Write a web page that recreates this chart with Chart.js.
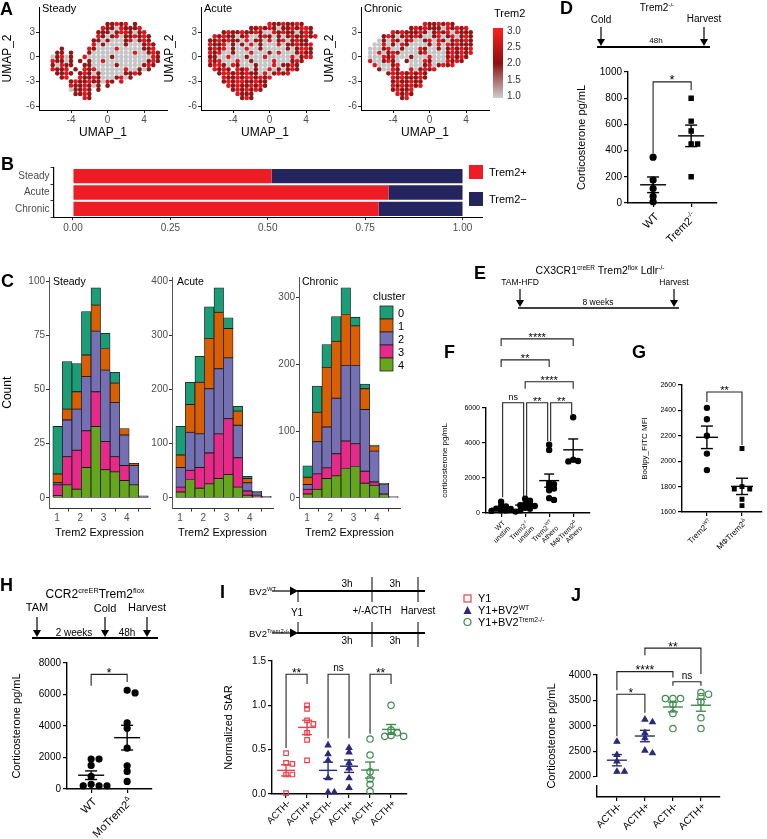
<!DOCTYPE html>
<html>
<head>
<meta charset="utf-8">
<title>Trem2 figure</title>
<script src="https://cdn.jsdelivr.net/npm/chart.js@4.4.1/dist/chart.umd.min.js"></script>
<style>
  body { margin: 0; background: #fff; }
  #fig { position: relative; width: 767px; height: 839px; overflow: hidden; }
  #fig canvas { position: absolute; }
  #fig svg { position: absolute; left: 0; top: 0; }
</style>
</head>
<body>
<div id="fig"></div>
<script>
// ---------- data ----------

// A: UMAP on a 0.5 grid (row 0 = y 4.5, col 0 = x -7)
// g = low Trem2 (grey), d = mid (dark red), r = high (red), '.' = empty
const umapSteady = [
  "",
  "..............ddrdr.d",
  ".............rddgrdddr",
  "............dddgdrrdgdr",
  "............rdgdrgddrdrd",
  "...........ddgdgggdrgdrd",
  "...........rgdggggdgggdrd",
  "....d.....rdggggrgggggddr",
  "...dd.d...dgggggggggrggdrd",
  "..gdrgd..rgggggdggggggggrd",
  "..rddgd.d.dggrgggggggggdrd",
  "..dgrdd..ddgggggdgggggdrd",
  "..rddr.d.rdrggggggrggdgd",
  "...ddrd.drdgdgggggddrd",
  "....dr..rddrdgggdrgd",
  "......drddrddgrd.r",
  "......rddrdgd.d",
  "......gddrd.d",
  ".......ddrd",
  ".........rd",
  ""
];
const umapAcute = [
  "",
  "..............rddrddrd",
  "..........ddrdrdgddrdrrd",
  "....drddrddrdggrdrddgdrd",
  "..rdrddgdrggdrdgdgdrddrdr",
  ".ddrdrddgrgddgrgdrgdrdd",
  ".rddrgdgdgrgdgggrgddrddr",
  ".drdrgdggrggdgggggdgdrrd",
  ".rdrggdgggrgggdgrgggdrdd",
  ".ddggrgggdgggrgggggrgdrr",
  ".rdrgggrggdggggrgggdrd",
  ".drrdgrdgggdgggrgddrd",
  "..rdrd.rdrgdggrgdgdrd",
  "...drrdrdrddgrgdrdr",
  "....rddrdrrdrdr",
  "....drdrrddrdd",
  ".....rdrddrdrd",
  "......drdrdrd",
  ".......rddd",
  "........drd",
  ""
];
const umapChronic = [
  "",
  ".............rddrdrd",
  "..........drdrdddgrdrdr",
  "......rdrdddrdgdrdrgrddd",
  "....drdgdrdrdggdrgdrgdrd",
  "...gdgrdgdrggdrgrdgdrdrd",
  "..ggrgdgrdggggdgrgrdrddd",
  ".gggdrggdgggrdggdgdrdrdr",
  ".ggrgdrdggggdrggggdrdrdr",
  ".gggrdrgggdgggrgggdrdrd",
  ".rggdrdg.dgggrdgggrdrd",
  "..rgggdr..gggdrgdrdr",
  "...dggrd..rgdrdr",
  ".....drdrdrdrd",
  "......rdrdddrd",
  "......drddrdd",
  "......rdrdrdr",
  "......drddr",
  ".......rdrd",
  "........dr",
  ""
];

// B: fraction of Trem2+ / Trem2- cells
const stateNames = ["Steady", "Acute", "Chronic"];
const trem2Pos = [0.51, 0.81, 0.785];
const trem2Neg = [0.49, 0.19, 0.215];

// C: stacked histogram of Trem2 expression, rows = cluster 0..4
const binCenters = [1.03, 1.44, 1.85, 2.26, 2.67, 3.08, 3.49, 3.90, 4.31, 4.72];
const clusterNames = ["0", "1", "2", "3", "4"];
const steadyCounts = [
  [22, 22, 13, 20, 8, 7, 5, 0, 0, 0],
  [4, 5, 8, 10, 12, 10, 9, 3, 1, 0],
  [1, 17, 19, 25, 28, 33, 25, 14, 9, 1],
  [5, 13, 18, 17, 16, 13, 7, 7, 0, 0],
  [1, 6, 4, 14, 33, 13, 12, 8, 6, 0]
];
const acuteCounts = [
  [53, 41, 48, 58, 45, 20, 9, 4, 1, 0],
  [23, 51, 95, 93, 104, 54, 26, 8, 1, 0],
  [36, 70, 62, 118, 120, 112, 60, 15, 5, 3],
  [9, 17, 38, 57, 82, 103, 54, 8, 3, 0],
  [11, 34, 18, 26, 36, 43, 20, 5, 2, 0]
];
const chronicCounts = [
  [17, 39, 34, 37, 40, 13, 7, 1, 1, 0],
  [11, 44, 89, 85, 76, 59, 31, 8, 0, 0],
  [7, 48, 61, 83, 113, 117, 92, 46, 15, 2],
  [7, 23, 16, 33, 41, 34, 18, 5, 1, 0],
  [6, 13, 29, 33, 44, 47, 22, 19, 5, 0]
];

// D: Trem2-/- cold exposure
const dLabels = ["WT", "Trem2^{-/-}"];
const dWT = [350, 175, 110, 50, 10];
const dKO = [800, 625, 550, 450, 450, 200];

// F: atherosclerosis corticosterone
const fLabels = [["WT", "unstim"], ["Trem2^{-/-}", "unstim"], ["Trem2^{WT}", "Athero"], ["MΦTrem2^{Δ}", "Athero"]];
const fWTunstim = [650, 400, 380, 250, 230, 150, 150, 120, 80];
const fKOunstim = [820, 700, 520, 480, 450, 400, 300, 250, 150];
const fWTathero = [3900, 3600, 1700, 1650, 1500, 1400, 1300, 850, 750];
const fKOathero = [5470, 3050, 2970, 2950];

// G: Bodipy uptake
const gLabels = ["Trem2^{WT}", "MΦTrem2^{Δ}"];
const gWT = [2420, 2330, 2200, 2060, 1930];
const gKO = [2100, 1800, 1780, 1780, 1700, 1650];

// H: CCR2creER Trem2flox cold exposure
const hLabels = ["WT", "MoTrem2^{Δ}"];
const hWT = [1900, 1900, 1500, 800, 300, 200, 200, 200];
const hKO = [6270, 6100, 4200, 3850, 2590, 1470, 1115, 480];

// I: normalized StAR in Y1 cells
const acthLabels = ["ACTH-", "ACTH+", "ACTH-", "ACTH+", "ACTH-", "ACTH+"];
const iY1minus = [0.46, 0.35, 0.34, 0.22, 0.22, 0.01];
const iY1plus = [1.0, 0.96, 0.83, 0.79, 0.69, 0.61, 0.38];
const iWTminus = [0.55, 0.45, 0.38, 0.18, 0.02, 0.02];
const iWTplus = [0.52, 0.47, 0.35, 0.29, 0.18, 0.07];
const iKOminus = [0.62, 0.44, 0.25, 0.17, 0.11, 0.03];
const iKOplus = [1.0, 0.72, 0.69, 0.66, 0.65, 0.65];

// J: corticosterone from Y1 co-cultures
const jWTminus = [2690, 2430, 2300, 2100, 2100];
const jWTplus = [3125, 3073, 2860, 2760, 2516, 2463];
const jKOminus = [3536, 3536, 3536, 3423, 3245, 2947];
const jKOplus = [3655, 3622, 3576, 3470, 3159, 2947];

// ---------- styles ----------
const FONT = "'Liberation Sans', Arial, sans-serif";
Chart.defaults.font.family = FONT;
Chart.defaults.color = '#000';

const umapColors = { g: '#c6c6c6', d: '#931616', r: '#e2161e' };
const clusterColors = ['#1b9e77', '#d95f02', '#7570b3', '#e7298a', '#66a61e'];
const RED = '#e8404c', NAVY = '#2a2a78', GREEN = '#3f8c50';

const base = {
  responsive: false,
  animation: false,
  devicePixelRatio: 1,
  events: [],
  plugins: { legend: { display: false }, tooltip: { enabled: false } }
};

function place(left, top, w, h) {
  const c = document.createElement('canvas');
  c.width = w;
  c.height = h;
  c.style.left = left + 'px';
  c.style.top = top + 'px';
  document.getElementById('fig').appendChild(c);
  return c.getContext('2d');
}
const fitW = w => s => { s.width = w; };
const fitH = h => s => { s.height = h; };
const setTicks = vals => s => { s.ticks = vals.map(v => ({ value: v })); };

// "Trem2^{-/-}" -> [{t:'Trem2'},{t:'-/-',sup:true}]
function parseRich(str) {
  const out = [];
  const re = /\^\{([^}]*)\}/g;
  let last = 0, m;
  while ((m = re.exec(str))) {
    if (m.index > last) out.push({ t: str.slice(last, m.index) });
    out.push({ t: m[1], sup: true });
    last = re.lastIndex;
  }
  if (last < str.length) out.push({ t: str.slice(last) });
  return out;
}

function richWidth(ctx, parts, size) {
  let w = 0;
  parts.forEach(p => {
    ctx.font = (p.sup ? size * 0.62 : size) + 'px ' + FONT;
    w += ctx.measureText(p.t).width;
  });
  return w;
}

function drawRich(ctx, str, x, y, size) {
  const parts = parseRich(str);
  let cx = x - richWidth(ctx, parts, size);
  parts.forEach(p => {
    const s = p.sup ? size * 0.62 : size;
    ctx.font = s + 'px ' + FONT;
    ctx.fillText(p.t, cx, p.sup ? y - size * 0.35 : y);
    cx += ctx.measureText(p.t).width;
  });
}

// spread points with close values sideways (like a column scatter)
function swarm(values, thr, step) {
  const placed = [];
  return values.map(v => {
    let off = 0;
    for (let k = 0; k < 30; k++) {
      const o = (k % 2 ? 1 : -1) * Math.ceil(k / 2) * step;
      const hit = placed.some(p => Math.abs(p.v - v) < thr && Math.abs(p.o - o) < step * 0.95);
      if (!hit) { off = o; break; }
    }
    placed.push({ v: v, o: off });
    return off;
  });
}

// ---------- A: UMAP ----------
function drawUmap(left, grid) {
  const groups = { g: [], d: [], r: [] };
  grid.forEach((row, ri) => {
    for (let ci = 0; ci < row.length; ci++) {
      const k = row[ci];
      if (groups[k]) groups[k].push({ x: -7 + ci * 0.5, y: 4.5 - ri * 0.5 });
    }
  });
  const axisLook = {
    grid: { display: true, drawOnChartArea: false, drawTicks: true, tickLength: 3, color: '#222' },
    border: { display: true, color: '#000', width: 1 },
    ticks: { font: { size: 10 }, color: '#4d4d4d', padding: 1, maxRotation: 0 }
  };
  new Chart(place(left, 0, 170, 140), {
    type: 'scatter',
    data: {
      datasets: ['g', 'd', 'r'].map(k => ({
        data: groups[k], backgroundColor: umapColors[k], pointRadius: 2.3, borderWidth: 0
      }))
    },
    options: {
      ...base,
      layout: { padding: { top: 0, right: 3, left: 0, bottom: 0 }, autoPadding: false },
      scales: {
        x: {
          ...axisLook, min: -7.5, max: 6.5,
          afterFit: fitH(30), afterBuildTicks: setTicks([-4, 0, 4]),
          title: { display: true, text: 'UMAP_1', font: { size: 12 }, padding: { top: 0, bottom: 0 } }
        },
        y: {
          ...axisLook, min: -6.46, max: 6.07,
          afterFit: fitW(39), afterBuildTicks: setTicks([-6, -3, 0, 3]),
          title: { display: true, text: 'UMAP_2', font: { size: 12 }, padding: { top: 0, bottom: 2 } }
        }
      }
    }
  });
}
drawUmap(0, umapSteady);
drawUmap(162, umapAcute);
drawUmap(322, umapChronic);

// ---------- B: proportion bars ----------
new Chart(place(0, 160, 490, 78), {
  type: 'bar',
  data: {
    labels: stateNames,
    datasets: [
      { data: trem2Pos, backgroundColor: '#ee1c25' },
      { data: trem2Neg, backgroundColor: '#24245e' }
    ]
  },
  options: {
    ...base,
    indexAxis: 'y',
    datasets: { bar: { barPercentage: 0.88, categoryPercentage: 1 } },
    layout: { padding: { top: 8, right: 8, left: 0, bottom: 0 }, autoPadding: false },
    scales: {
      x: {
        stacked: true, min: -0.05, max: 1.05,
        afterFit: fitH(21), afterBuildTicks: setTicks([0, 0.25, 0.5, 0.75, 1]),
        ticks: { font: { size: 10 }, color: '#4d4d4d', padding: 2, callback: v => v.toFixed(2) },
        grid: { display: true, drawOnChartArea: false, tickLength: 3, color: '#333' },
        border: { color: '#000' }
      },
      y: {
        stacked: true, afterFit: fitW(53.5),
        ticks: { font: { size: 10 }, color: '#4d4d4d', padding: 1 },
        grid: { display: true, drawOnChartArea: false, tickLength: 3, color: '#333' },
        border: { color: '#000', width: 1.2 }
      }
    }
  }
});

// ---------- C: stacked histograms ----------
function drawHist(left, width, axisW, counts, yMin, yMax, yTicks, showCount) {
  const datasets = [4, 3, 2, 1, 0].map(k => ({
    data: binCenters.map((c, i) => ({ x: c, y: counts[k][i] })),
    backgroundColor: clusterColors[k],
    borderColor: '#1a1a1a', borderWidth: 0.8, borderSkipped: false,
    barPercentage: 1, categoryPercentage: 1
  }));
  new Chart(place(left, 270, width, 270), {
    type: 'bar',
    data: { datasets },
    options: {
      ...base,
      layout: { padding: { top: 7, right: width - axisW - 101, left: 0, bottom: 0 }, autoPadding: false },
      scales: {
        x: {
          type: 'linear', offset: false, stacked: true, min: 0.66, max: 5.0,
          afterFit: fitH(31.5), afterBuildTicks: setTicks([1, 2, 3, 4]),
          ticks: { font: { size: 10 }, color: '#4d4d4d', padding: 1, maxRotation: 0 },
          grid: { display: true, drawOnChartArea: false, tickLength: 3, color: '#333' },
          border: { color: '#333' },
          title: { display: true, text: 'Trem2 Expression', font: { size: 11 }, padding: { top: 1, bottom: 0 } }
        },
        y: {
          stacked: true, min: yMin, max: yMax,
          afterFit: fitW(axisW), afterBuildTicks: setTicks(yTicks),
          ticks: { font: { size: 10 }, color: '#4d4d4d', padding: 1 },
          grid: { display: true, drawOnChartArea: false, tickLength: 3, color: '#333' },
          border: { color: '#555' },
          title: { display: showCount, text: 'Count', font: { size: 12 }, padding: 0 }
        }
      }
    }
  });
}
drawHist(0, 152, 49, steadyCounts, -4.9, 102, [0, 25, 50, 75, 100], true);
drawHist(150, 126, 22, acuteCounts, -19.4, 407, [0, 100, 200, 300, 400], false);
drawHist(272, 131, 27, chronicCounts, -15.7, 330, [0, 100, 200, 300], false);

// ---------- column scatter panels (D, F, G, H, I, J) ----------
const dotConfig = new Map();

function line(ctx, x1, y1, x2, y2) {
  ctx.beginPath();
  ctx.moveTo(x1, y1);
  ctx.lineTo(x2, y2);
  ctx.stroke();
}

const columnStats = {
  id: 'columnStats',
  afterDatasetsDraw(chart) {
    const p = dotConfig.get(chart.canvas);
    if (!p) return;
    const { ctx, chartArea } = chart;
    const xs = chart.scales.x, ys = chart.scales.y;
    ctx.save();

    // mean +/- SEM
    p.groups.forEach((g, gi) => {
      const n = g.values.length;
      const mean = g.values.reduce((a, b) => a + b, 0) / n;
      const sd = Math.sqrt(g.values.reduce((a, b) => a + (b - mean) * (b - mean), 0) / (n - 1));
      const sem = sd / Math.sqrt(n);
      const cx = xs.getPixelForValue(gi);
      const ym = ys.getPixelForValue(mean);
      const y1 = ys.getPixelForValue(mean + sem), y2 = ys.getPixelForValue(mean - sem);
      ctx.strokeStyle = g.color;
      ctx.lineWidth = 1.4;
      line(ctx, cx - p.meanW, ym, cx + p.meanW, ym);
      line(ctx, cx, y1, cx, y2);
      line(ctx, cx - p.capW, y1, cx + p.capW, y1);
      line(ctx, cx - p.capW, y2, cx + p.capW, y2);
    });

    // significance brackets
    ctx.strokeStyle = '#222';
    ctx.fillStyle = '#000';
    ctx.lineWidth = 1.1;
    (p.brackets || []).forEach(b => {
      const x1 = xs.getPixelForValue(b.a) + (b.inset || 0);
      const x2 = xs.getPixelForValue(b.b) - (b.inset || 0);
      const y = ys.getPixelForValue(b.y);
      ctx.beginPath();
      ctx.moveTo(x1, ys.getPixelForValue(b.la));
      ctx.lineTo(x1, y);
      ctx.lineTo(x2, y);
      ctx.lineTo(x2, ys.getPixelForValue(b.lb));
      ctx.stroke();
      const star = b.text.indexOf('*') >= 0;
      ctx.font = (star ? p.starSize : p.nsSize) + 'px ' + FONT;
      ctx.textAlign = 'center';
      ctx.textBaseline = 'alphabetic';
      ctx.fillText(b.text, (x1 + x2) / 2, star ? y + p.starSize * 0.2 : y - 3);
    });

    // rotated category labels
    ctx.fillStyle = '#000';
    ctx.textAlign = 'left';
    ctx.textBaseline = 'middle';
    p.labels.forEach((lab, i) => {
      const lines = Array.isArray(lab) ? lab : [lab];
      ctx.save();
      ctx.translate(xs.getPixelForValue(i) + p.ldx, chartArea.bottom + p.ldy);
      ctx.rotate(-Math.PI / 4);
      lines.forEach((ln, k) => drawRich(ctx, ln, 0, k * p.labelSize * 1.05, p.labelSize));
      ctx.restore();
    });

    // broken y axis
    if (p.yBreak) {
      ctx.fillStyle = '#fff';
      const a = ys.getPixelForValue(p.yBreak[1]), b = ys.getPixelForValue(p.yBreak[0]);
      ctx.fillRect(chartArea.left - 3, a, 6, b - a);
    }
    ctx.restore();
  }
};

function drawDots(p) {
  const ctx = place(p.left, p.top, p.w, p.h);
  dotConfig.set(ctx.canvas, p);
  const datasets = p.groups.map((g, gi) => {
    const offs = swarm(g.values, p.thr, p.step);
    return {
      data: g.values.map((v, i) => ({ x: gi + offs[i], y: v })),
      pointStyle: g.shape,
      pointRadius: p.r,
      borderWidth: 1.2,
      borderColor: g.color,
      backgroundColor: g.open ? 'rgba(255,255,255,0)' : g.color
    };
  });
  const axisLine = { display: true, color: '#000', width: 1.4 };
  const tickMarks = { display: true, drawOnChartArea: false, drawTicks: true, tickLength: 4, color: '#000', lineWidth: 1.2 };
  new Chart(ctx, {
    type: 'scatter',
    data: { datasets },
    options: {
      ...base,
      clip: false,
      layout: { padding: { top: p.padTop, right: p.padRight, left: 0, bottom: 0 }, autoPadding: false },
      scales: {
        x: {
          type: 'linear', min: p.xMin, max: p.xMax,
          afterFit: fitH(p.axisH), afterBuildTicks: setTicks(p.groups.map((g, i) => i)),
          ticks: { display: false },
          grid: tickMarks, border: axisLine
        },
        y: {
          min: p.yMin, max: p.yMax,
          afterFit: fitW(p.axisW), afterBuildTicks: setTicks(p.yTicks),
          ticks: { font: { size: p.tickSize }, color: '#000', padding: 2, callback: p.fmt || (v => v) },
          grid: tickMarks, border: axisLine,
          title: { display: true, text: p.yTitle, font: { size: p.titleSize }, padding: 0 }
        }
      }
    },
    plugins: [columnStats]
  });
}

// D
drawDots({
  left: 575, top: 60, w: 145, h: 200, axisW: 53, axisH: 57, padTop: 12, padRight: 3,
  xMin: -0.66, xMax: 1.68, yMin: 0, yMax: 1000, yTicks: [0, 200, 400, 600, 800, 1000],
  tickSize: 10, titleSize: 11, yTitle: 'Corticosterone pg/mL',
  groups: [
    { values: dWT, color: '#000', shape: 'circle' },
    { values: dKO, color: '#000', shape: 'rect' }
  ],
  thr: 25, step: 0.17, r: 3, meanW: 13, capW: 6,
  labels: dLabels, labelSize: 11, ldx: 4, ldy: 12, starSize: 13, nsSize: 10,
  brackets: [{ a: 0, b: 1, y: 925, la: 380, lb: 860, text: '*' }]
});

// F
drawDots({
  left: 440, top: 320, w: 155, h: 255, axisW: 46, axisH: 62, padTop: 88, padRight: 5,
  xMin: -0.63, xMax: 3.7, yMin: 0, yMax: 6000, yTicks: [0, 2000, 4000, 6000],
  tickSize: 7, titleSize: 8, yTitle: 'corticosterone pg/mL',
  groups: [
    { values: fWTunstim, color: '#000', shape: 'circle' },
    { values: fKOunstim, color: '#000', shape: 'circle' },
    { values: fWTathero, color: '#000', shape: 'circle' },
    { values: fKOathero, color: '#000', shape: 'circle' }
  ],
  thr: 180, step: 0.2, r: 2.6, meanW: 10, capW: 5,
  labels: fLabels, labelSize: 7, ldx: 3, ldy: 9, starSize: 11, nsSize: 9,
  brackets: [
    { a: 0, b: 3, y: 9950, la: 9550, lb: 9550, text: '****' },
    { a: 0, b: 2, y: 8750, la: 8350, lb: 8350, text: '**' },
    { a: 1, b: 3, y: 7500, la: 7100, lb: 7100, text: '****' },
    { a: 0, b: 1, y: 6300, la: 900, lb: 950, text: 'ns', inset: 1.5 },
    { a: 1, b: 2, y: 6300, la: 950, lb: 4100, text: '**', inset: 1.5 },
    { a: 2, b: 3, y: 6300, la: 4100, lb: 5650, text: '**', inset: 1.5 }
  ]
});

// G
drawDots({
  left: 640, top: 370, w: 127, h: 205, axisW: 42, axisH: 63, padTop: 15, padRight: 5,
  xMin: -0.71, xMax: 1.57, yMin: 1600, yMax: 2600, yTicks: [1600, 1800, 2000, 2200, 2400, 2600],
  tickSize: 7, titleSize: 8, yTitle: 'Bodipy_FITC MFI',
  groups: [
    { values: gWT, color: '#000', shape: 'circle' },
    { values: gKO, color: '#000', shape: 'rect' }
  ],
  thr: 30, step: 0.22, r: 2.6, meanW: 11, capW: 6,
  labels: gLabels, labelSize: 8, ldx: 4, ldy: 9, starSize: 11, nsSize: 9,
  brackets: [{ a: 0, b: 1, y: 2545, la: 2466, lb: 2128, text: '**' }]
});

// H
drawDots({
  left: 10, top: 650, w: 145, h: 189, axisW: 57, axisH: 50, padTop: 13, padRight: 3,
  xMin: -0.67, xMax: 1.69, yMin: 0, yMax: 8000, yTicks: [0, 2000, 4000, 6000, 8000],
  tickSize: 10, titleSize: 11, yTitle: 'Corticosterone pg/mL',
  groups: [
    { values: hWT, color: '#000', shape: 'circle' },
    { values: hKO, color: '#000', shape: 'circle' }
  ],
  thr: 250, step: 0.22, r: 3, meanW: 13, capW: 6,
  labels: hLabels, labelSize: 11, ldx: 4, ldy: 11, starSize: 13, nsSize: 10,
  brackets: [{ a: 0, b: 1, y: 7280, la: 6550, lb: 6800, text: '*' }]
});

// I
drawDots({
  left: 222, top: 650, w: 190, h: 189, axisW: 50, axisH: 45, padTop: 11, padRight: 5,
  xMin: -0.67, xMax: 5.76, yMin: 0, yMax: 1.5, yTicks: [0, 0.5, 1, 1.5],
  tickSize: 10, titleSize: 11, yTitle: 'Normalized StAR', fmt: v => v.toFixed(1),
  groups: [
    { values: iY1minus, color: RED, shape: 'rect', open: true },
    { values: iY1plus, color: RED, shape: 'rect', open: true },
    { values: iWTminus, color: NAVY, shape: 'triangle' },
    { values: iWTplus, color: NAVY, shape: 'triangle' },
    { values: iKOminus, color: GREEN, shape: 'circle', open: true },
    { values: iKOplus, color: GREEN, shape: 'circle', open: true }
  ],
  thr: 0.04, step: 0.3, r: 3.2, meanW: 9, capW: 5,
  labels: acthLabels, labelSize: 9.5, ldx: 3, ldy: 8, starSize: 12, nsSize: 10,
  brackets: [
    { a: 0, b: 1, y: 1.35, la: 0.52, lb: 1.24, text: '**' },
    { a: 2, b: 3, y: 1.35, la: 0.63, lb: 0.63, text: 'ns' },
    { a: 4, b: 5, y: 1.35, la: 0.68, lb: 1.24, text: '**' }
  ]
});

// J
drawDots({
  left: 545, top: 595, w: 180, h: 244, axisW: 52, axisH: 42, padTop: 80, padRight: 5,
  xMin: -0.71, xMax: 3.68, yMin: 1600, yMax: 4000, yTicks: [2000, 2500, 3000, 3500, 4000],
  tickSize: 10, titleSize: 11, yTitle: 'Corticosterone pg/mL', yBreak: [1835, 1993],
  groups: [
    { values: jWTminus, color: NAVY, shape: 'triangle' },
    { values: jWTplus, color: NAVY, shape: 'triangle' },
    { values: jKOminus, color: GREEN, shape: 'circle', open: true },
    { values: jKOplus, color: GREEN, shape: 'circle', open: true }
  ],
  thr: 60, step: 0.27, r: 3.2, meanW: 10, capW: 5,
  labels: acthLabels.slice(0, 4), labelSize: 10, ldx: 3, ldy: 8, starSize: 12, nsSize: 10,
  brackets: [
    { a: 1, b: 3, y: 4529, la: 4390, lb: 4020, text: '**' },
    { a: 0, b: 2, y: 4066, la: 3700, lb: 3950, text: '****' },
    { a: 2, b: 3, y: 3867, la: 3790, lb: 3790, text: 'ns' },
    { a: 0, b: 1, y: 3622, la: 2794, lb: 3258, text: '*' }
  ]
});

// ---------- text, legends and timelines ----------
function esc(s) {
  return s.replace(/&/g, '&amp;').replace(/</g, '&lt;');
}
function richSvg(str, size) {
  const sh = size * 0.38;
  let out = '', up = false;
  parseRich(str).forEach(p => {
    if (p.sup) {
      out += `<tspan dy="${-sh}" font-size="${(size * 0.62).toFixed(1)}">${esc(p.t)}</tspan>`;
      up = true;
    } else {
      out += `<tspan dy="${up ? sh : 0}">${esc(p.t)}</tspan>`;
      up = false;
    }
  });
  if (up) out += `<tspan dy="${sh}"></tspan>`;
  return out;
}
function txt(x, y, str, size, opt) {
  opt = opt || {};
  const rot = opt.rot ? ` transform="rotate(${opt.rot} ${x} ${y})"` : '';
  return `<text x="${x}" y="${y}" font-size="${size}" text-anchor="${opt.anchor || 'start'}"` +
    ` font-weight="${opt.bold ? 'bold' : 'normal'}" fill="${opt.color || '#000'}"${rot}>${richSvg(str, size)}</text>`;
}
function seg(x1, y1, x2, y2, w) {
  return `<line x1="${x1}" y1="${y1}" x2="${x2}" y2="${y2}" stroke="#000" stroke-width="${w || 1}"/>`;
}
function arrowDown(x, y1, y2) {
  return seg(x, y1, x, y2 - 5, 1.2) + `<polygon points="${x - 4},${y2 - 7} ${x + 4},${y2 - 7} ${x},${y2}" fill="#000"/>`;
}
function arrowRight(x1, x2, y) {
  return seg(x1, y, x2 - 6, y, 1.2) + `<polygon points="${x2 - 8},${y - 4.5} ${x2 - 8},${y + 4.5} ${x2},${y}" fill="#000"/>`;
}

function buildOverlay() {
  let s = '';
  // panel letters
  [['A', 0, 15], ['B', 1, 170], ['C', 1, 287], ['D', 560, 14], ['E', 474, 279], ['F', 444, 358],
   ['G', 632, 358], ['H', 0, 591], ['I', 220, 598], ['J', 571, 601]].forEach(l => {
    s += txt(l[1], l[2], l[0], 18, { bold: true });
  });

  // A titles + colour bar
  s += txt(42, 12, 'Steady', 11) + txt(204, 12, 'Acute', 11) + txt(364, 12, 'Chronic', 11);
  s += `<defs><linearGradient id="cb" x1="0" y1="0" x2="0" y2="1">
    <stop offset="0" stop-color="#ff1f1f"/><stop offset="0.5" stop-color="#8e1010"/>
    <stop offset="1" stop-color="#cdcdcd"/></linearGradient></defs>`;
  s += txt(494, 17, 'Trem2', 11);
  s += `<rect x="493" y="28" width="10" height="70" fill="url(#cb)"/>`;
  [['3.0', 34], ['2.5', 50], ['2.0', 66], ['1.5', 83], ['1.0', 99]].forEach(t => {
    s += txt(507, t[1], t[0], 10, { color: '#333' });
  });

  // B legend
  s += `<rect x="469" y="165" width="14" height="14" fill="#ee1c25"/>` + txt(489, 176, 'Trem2+', 11);
  s += `<rect x="469" y="192" width="14" height="14" fill="#24245e"/>` + txt(489, 203, 'Trem2−', 11);

  // C titles + cluster legend
  s += txt(53, 285, 'Steady', 10.5) + txt(177, 285, 'Acute', 10.5) + txt(302, 285, 'Chronic', 10.5);
  s += txt(373, 300, 'cluster', 11);
  clusterNames.forEach((c, i) => {
    const y = 306 + i * 13;
    s += `<rect x="380" y="${y}" width="13" height="13" fill="${clusterColors[i]}" stroke="#222" stroke-width="0.8"/>`;
    s += txt(398, y + 11, c, 11);
  });

  // D timeline
  s += txt(657, 11, 'Trem2^{-/-}', 10, { anchor: 'middle' });
  s += txt(601, 23, 'Cold', 10, { anchor: 'middle' }) + txt(704, 22, 'Harvest', 10, { anchor: 'middle' });
  s += arrowDown(601, 27, 46) + arrowDown(704, 27, 46) + seg(597, 47, 710, 47, 2);
  s += txt(656, 43, '48h', 8, { anchor: 'middle' });

  // E timeline
  s += txt(600, 274, 'CX3CR1^{creER} Trem2^{flox} Ldlr^{-/-}', 10.5, { anchor: 'middle' });
  s += txt(520, 285, 'TAM-HFD', 8.5, { anchor: 'middle' }) + txt(674, 285, 'Harvest', 8.5, { anchor: 'middle' });
  s += arrowDown(520, 289, 307) + arrowDown(674, 289, 307) + seg(518, 308, 679, 308, 1.5);
  s += txt(598, 305, '8 weeks', 8.5, { anchor: 'middle' });

  // H timeline
  s += txt(95, 598, 'CCR2^{creER}Trem2^{flox}', 12, { anchor: 'middle' });
  s += txt(37, 611, 'TAM', 11, { anchor: 'middle' }) + txt(105, 612, 'Cold', 11, { anchor: 'middle' }) +
       txt(147, 611, 'Harvest', 11, { anchor: 'middle' });
  s += arrowDown(37, 617, 637) + arrowDown(105, 617, 637) + arrowDown(147, 617, 637) + seg(32, 638, 158, 638, 2);
  s += txt(74, 636, '2 weeks', 10, { anchor: 'middle' }) + txt(127, 636, '48h', 10, { anchor: 'middle' });

  // I timeline
  s += txt(249, 595, 'BV2^{WT}', 9.5) + arrowRight(272, 298, 591) + seg(297, 591, 425, 591, 2);
  s += seg(298, 591, 298, 602) + seg(372, 577, 372, 602) + seg(418, 577, 418, 602);
  s += txt(347, 587, '3h', 10, { anchor: 'middle' }) + txt(395, 587, '3h', 10, { anchor: 'middle' });
  s += txt(297, 616, 'Y1', 10, { anchor: 'middle' }) + txt(372, 614, '+/-ACTH', 10, { anchor: 'middle' }) +
       txt(418, 614, 'Harvest', 10, { anchor: 'middle' });
  s += txt(249, 637, 'BV2^{Trem2-/-}', 9.5) + arrowRight(272, 298, 633) + seg(297, 633, 425, 633, 2);
  s += seg(298, 622, 298, 633) + seg(372, 622, 372, 647) + seg(418, 622, 418, 647);
  s += txt(347, 644, '3h', 10, { anchor: 'middle' }) + txt(395, 644, '3h', 10, { anchor: 'middle' });

  // I legend
  s += `<rect x="464" y="595" width="7" height="7" fill="none" stroke="${RED}" stroke-width="1.2"/>` + txt(478, 602, 'Y1', 11);
  s += `<polygon points="467.5,606 463.5,614 471.5,614" fill="${NAVY}"/>` + txt(478, 614, 'Y1+BV2^{WT}', 11);
  s += `<circle cx="467.5" cy="622" r="3.5" fill="none" stroke="${GREEN}" stroke-width="1.2"/>` + txt(478, 626, 'Y1+BV2^{Trem2-/-}', 11);

  const svg = `<svg xmlns="http://www.w3.org/2000/svg" width="767" height="839" font-family="${FONT.replace(/'/g, '')}">${s}</svg>`;
  document.getElementById('fig').insertAdjacentHTML('beforeend', svg);
}
buildOverlay();
</script>
</body>
</html>
